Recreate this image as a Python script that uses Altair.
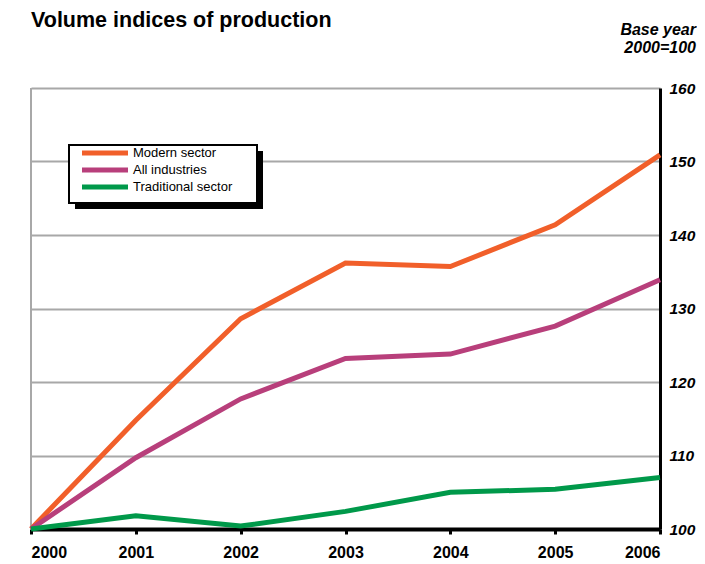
import altair as alt
import pandas as pd

years = [2000, 2001, 2002, 2003, 2004, 2005, 2006]
modern = [100, 114.8, 128.6, 136.2, 135.7, 141.4, 150.9]
all_industries = [100, 109.7, 117.7, 123.2, 123.8, 127.6, 133.9]
traditional = [100, 101.8, 100.4, 102.4, 105.0, 105.4, 107.0]

series_names = ["Modern sector", "All industries", "Traditional sector"]
series_colors = ["#F15F2A", "#B83F7B", "#00994A"]
series_values = [modern, all_industries, traditional]

title_text = "Volume indices of production"
note_text = ["Base year", "2000=100"]

rows = []
for name, vals in zip(series_names, series_values):
    for yr, v in zip(years, vals):
        rows.append({"year": yr, "value": v, "series": name})
df = pd.DataFrame(rows)
legend_df = pd.DataFrame({"series": series_names, "row": [0, 1, 2]})

FONT = "Liberation Sans"
GRAY = "#A8A8A8"

color_scale = alt.Scale(domain=series_names, range=series_colors)

left_line = alt.Chart(df).mark_rule(color=GRAY, strokeWidth=2).encode(
    x=alt.datum(2000)
)

lines = alt.Chart(df).mark_line(strokeWidth=5).encode(
    x=alt.X("year:Q",
            scale=alt.Scale(domain=[2000, 2006], nice=False, zero=False),
            axis=alt.Axis(values=years, format="d", title=None, grid=False,
                          domainColor="black", domainWidth=4,
                          tickColor="black", tickWidth=3, tickSize=5,
                          labelFont=FONT, labelFontSize=16, labelFontWeight="bold",
                          labelColor="black", labelPadding=10)),
    y=alt.Y("value:Q",
            scale=alt.Scale(domain=[100, 160], nice=False, zero=False),
            axis=alt.Axis(orient="right", values=[100, 110, 120, 130, 140, 150, 160],
                          title=None, grid=True, gridColor=GRAY, gridWidth=2,
                          domainColor="black", domainWidth=3, ticks=False,
                          labelFont=FONT, labelFontSize=15.5, labelFontWeight="bold",
                          labelFontStyle="italic", labelColor="black", labelPadding=9)),
    color=alt.Color("series:N", scale=color_scale, legend=None),
    order=alt.Order("series:N"),
)

one = pd.DataFrame({"a": [0]})

shadow = alt.Chart(one).mark_rect(fill="black").encode(
    x=alt.value(44), x2=alt.value(232), y=alt.value(63), y2=alt.value(121)
)
box = alt.Chart(one).mark_rect(fill="white", stroke="black", strokeWidth=2).encode(
    x=alt.value(38), x2=alt.value(226), y=alt.value(57), y2=alt.value(115)
)

leg_y = alt.Y("row:Q", scale=alt.Scale(domain=[0, 2], range=[65, 99]), axis=None)
leg_rules = alt.Chart(legend_df).mark_rule(strokeWidth=5).encode(
    x=alt.value(51), x2=alt.value(97), y=leg_y,
    color=alt.Color("series:N", scale=color_scale, legend=None),
)
leg_text = alt.Chart(legend_df).mark_text(
    align="left", baseline="middle", font=FONT, fontSize=13, color="black"
).encode(
    x=alt.value(102), y=leg_y, text="series:N"
)

title_mark = alt.Chart(one).mark_text(
    align="left", baseline="alphabetic", font=FONT, fontSize=21.5,
    fontWeight="bold", color="black", text=title_text
).encode(x=alt.value(0), y=alt.value(-61))

base_note = alt.Chart(one).mark_text(
    align="right", baseline="alphabetic", font=FONT, fontSize=16,
    fontWeight="bold", fontStyle="italic", color="black", lineHeight=18,
    text=note_text
).encode(x=alt.value(665), y=alt.value(-53))

chart = alt.layer(left_line, lines, shadow, box, leg_rules, leg_text,
                  title_mark, base_note).resolve_scale(
    y="independent"
).properties(
    width=629, height=441,
    autosize=alt.AutoSizeParams(type="none"),
    padding={"left": 23, "top": 80, "right": 37, "bottom": 33},
).configure_view(stroke=None)

chart.save("out.html", embed_options={"renderer": "svg", "actions": False})
